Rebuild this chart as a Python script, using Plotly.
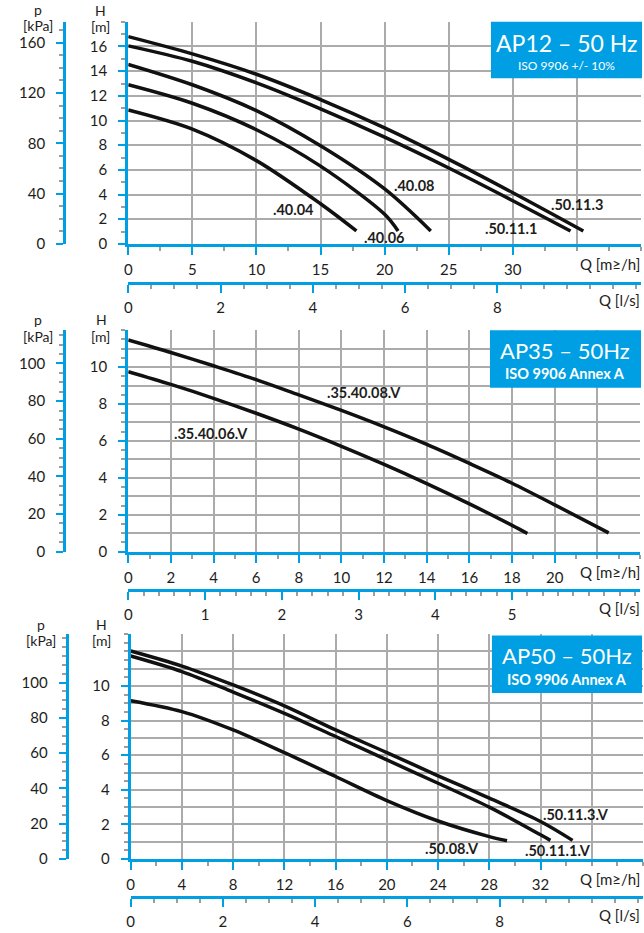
import numpy as np
import plotly.graph_objects as go

# ---------------- data ----------------
# Panel 1 : AP12 - 50 Hz   (Q in m3/h, H in m)
ap12_names = [".50.11.3", ".50.11.1", ".40.08", ".40.06", ".40.04"]
ap12_q = [
    [0, 5, 10, 15, 20, 25, 30, 35.5],
    [0, 5, 10, 15, 20, 25, 30, 34.5],
    [0, 5, 10, 15, 20, 23.6],
    [0, 5, 10, 15, 20, 21.05],
    [0, 5, 10, 15, 17.8],
]
ap12_h = [
    [16.8, 15.4, 13.75, 11.7, 9.4, 6.85, 4.15, 1.05],
    [16.05, 14.8, 13.05, 10.95, 8.65, 6.15, 3.5, 1.05],
    [14.55, 12.9, 10.8, 7.95, 4.45, 1.05],
    [12.9, 11.4, 9.25, 6.3, 2.4, 1.05],
    [10.85, 9.3, 6.75, 3.25, 1.05],
]
ap12_lbl_q = [35.0, 29.85, 22.35, 20.0, 12.9]
ap12_lbl_h = [3.2, 1.23, 4.7, 0.55, 2.8]

# Panel 2 : AP35 - 50 Hz
ap35_names = [".35.40.08.V", ".35.40.06.V"]
ap35_q = [
    [0, 2, 4, 6, 8, 10, 12, 14, 16, 18, 20, 22.53],
    [0, 2, 4, 6, 8, 10, 12, 14, 16, 18, 18.72],
]
ap35_h = [
    [11.47, 10.79, 10.07, 9.32, 8.49, 7.65, 6.76, 5.81, 4.78, 3.71, 2.54, 1.02],
    [9.75, 9.06, 8.31, 7.50, 6.64, 5.71, 4.73, 3.69, 2.59, 1.43, 0.99],
]
ap35_lbl_q = [11.05, 3.9]
ap35_lbl_h = [8.6, 6.4]

# Panel 3 : AP50 - 50 Hz
ap50_names = [".50.11.3.V", ".50.11.1.V", ".50.08.V"]
ap50_q = [
    [0, 4, 8, 12, 16, 20, 24, 28, 32, 34.5],
    [0, 4, 8, 12, 16, 20, 24, 28, 32, 32.77],
    [0, 4, 8, 12, 16, 20, 24, 28, 29.38],
]
ap50_h = [
    [12.02, 11.15, 10.06, 8.85, 7.46, 6.15, 4.81, 3.52, 2.17, 1.08],
    [11.73, 10.83, 9.65, 8.42, 7.08, 5.73, 4.38, 3.0, 1.4, 1.08],
    [9.15, 8.52, 7.46, 6.15, 4.77, 3.38, 2.2, 1.3, 1.06],
]
ap50_lbl_q = [34.75, 33.4, 25.1]
ap50_lbl_h = [2.56, 0.5, 0.62]

# tick labels
ap12_q_ticks = [0, 5, 10, 15, 20, 25, 30, 35, 40]
ap12_q_text = ["0", "5", "10", "15", "20", "25", "30", "", ""]
ap12_ls_ticks = [0, 2, 4, 6, 8, 10]
ap12_ls_text = ["0", "2", "4", "6", "8", ""]
ap12_h_ticks = [0, 2, 4, 6, 8, 10, 12, 14, 16, 18]
ap12_h_text = ["0", "2", "4", "6", "8", "10", "12", "14", "16", ""]
ap12_p_ticks = [0, 40, 80, 120, 160]
ap12_p_text = ["0", "40", "80", "120", "160"]

ap35_q_ticks = [0, 2, 4, 6, 8, 10, 12, 14, 16, 18, 20, 22, 24]
ap35_q_text = ["0", "2", "4", "6", "8", "10", "12", "14", "16", "18", "20", "", ""]
ap35_ls_ticks = [0, 1, 2, 3, 4, 5, 6]
ap35_ls_text = ["0", "1", "2", "3", "4", "5", ""]
ap35_h_ticks = [0, 1, 2, 3, 4, 5, 6, 7, 8, 9, 10, 11, 12]
ap35_h_text = ["0", "", "2", "", "4", "", "6", "", "8", "", "10", "", ""]
ap35_p_ticks = [0, 20, 40, 60, 80, 100]
ap35_p_text = ["0", "20", "40", "60", "80", "100"]

ap50_q_ticks = [0, 4, 8, 12, 16, 20, 24, 28, 32, 36, 40]
ap50_q_text = ["0", "4", "8", "12", "16", "20", "24", "28", "32", "", ""]
ap50_ls_ticks = [0, 2, 4, 6, 8, 10]
ap50_ls_text = ["0", "2", "4", "6", "8", ""]
ap50_h_ticks = [0, 1, 2, 3, 4, 5, 6, 7, 8, 9, 10, 11, 12, 13]
ap50_h_text = ["0", "", "2", "", "4", "", "6", "", "8", "", "10", "", "", ""]
ap50_p_ticks = [0, 20, 40, 60, 80, 100, 120]
ap50_p_text = ["0", "20", "40", "60", "80", "100", ""]

titles = ["AP12 – 50 Hz", "AP35 – 50Hz", "AP50 – 50Hz"]
subtitles = ["ISO 9906 +/- 10%", "ISO 9906 Annex A", "ISO 9906 Annex A"]

# ---------------- styling / layout ----------------
W, H = 644, 933
BLUE = "#009FE3"
GRID = "#ababab"
MINOR = "#9d9d9d"
TXT = "#1d1d1b"
FONT = "Lato"
KPA_PER_M = 9.81
M3H_PER_LS = 3.6


def fx(p):
    return p / W


def fy(p):
    return 1 - p / H


panels = [
    dict(x0=125, x1=641, yb=246, yt=22, pax=60.5, lsy=285, qmax=40, hmax=18,
         names=ap12_names, q=ap12_q, h=ap12_h, lq=ap12_lbl_q, lh=ap12_lbl_h,
         qt=ap12_q_ticks, qtt=ap12_q_text, qminor=2.5,
         lt=ap12_ls_ticks, ltt=ap12_ls_text, lminor=0.5,
         ht=ap12_h_ticks, htt=ap12_h_text, hminor=1,
         pt=ap12_p_ticks, ptt=ap12_p_text, pminor=10,
         box=(490, 22, 642, 79), tsize=23, ssize=12, ty=43, sy=66, sbold=False),
    dict(x0=125, x1=640, yb=556.5, yt=333, pax=60.5, lsy=595, qmax=24, hmax=12,
         names=ap35_names, q=ap35_q, h=ap35_h, lq=ap35_lbl_q, lh=ap35_lbl_h,
         qt=ap35_q_ticks, qtt=ap35_q_text, qminor=1,
         lt=ap35_ls_ticks, ltt=ap35_ls_text, lminor=0.2,
         ht=ap35_h_ticks, htt=ap35_h_text, hminor=0.5,
         pt=ap35_p_ticks, ptt=ap35_p_text, pminor=5,
         box=(489, 333, 641, 391), tsize=22, ssize=14.5, ty=353.5, sy=377, sbold=True),
    dict(x0=127.5, x1=643, yb=866.5, yt=639.5, pax=63, lsy=905, qmax=40, hmax=13,
         names=ap50_names, q=ap50_q, h=ap50_h, lq=ap50_lbl_q, lh=ap50_lbl_h,
         qt=ap50_q_ticks, qtt=ap50_q_text, qminor=2,
         lt=ap50_ls_ticks, ltt=ap50_ls_text, lminor=0.5,
         ht=ap50_h_ticks, htt=ap50_h_text, hminor=0.5,
         pt=ap50_p_ticks, ptt=ap50_p_text, pminor=5,
         box=(491, 641, 642, 699), tsize=22, ssize=14.5, ty=661.5, sy=685, sbold=True),
]

unit_lbl = [
    dict(p=(34, 10), kpa=(34, 26), h=(97, 11), m=(97, 27)),
    dict(p=(34, 322), kpa=(34, 339), h=(98, 322), m=(97, 339)),
    dict(p=(37, 630), kpa=(37, 646), h=(98, 630), m=(98, 646)),
]

fig = go.Figure()
layout = dict(width=W, height=H, margin=dict(l=0, r=0, t=0, b=0),
              paper_bgcolor="white", plot_bgcolor="white", showlegend=False,
              font=dict(family=FONT, size=14, color=TXT))
shapes = []
annotations = []

tickfont = dict(family=FONT, size=15, color=TXT)


def minor_cfg(step, rmax, ln):
    vals = [round(v, 4) for v in np.arange(0, rmax + 1e-9, step)]
    return dict(tickmode="array", tickvals=vals, ticks="outside", ticklen=ln,
                tickwidth=1.5, tickcolor=MINOR, showgrid=False)


for i, P in enumerate(panels):
    n_main = 2 * i + 1
    n_ov = 2 * i + 2
    xm = "x" if n_main == 1 else f"x{n_main}"
    ym = "y" if n_main == 1 else f"y{n_main}"
    xo = f"x{n_ov}"
    yo = f"y{n_ov}"
    xdom = [fx(P["x0"]), fx(P["x1"])]
    ydom = [fy(P["yb"]), fy(P["yt"])]

    layout["xaxis" if n_main == 1 else f"xaxis{n_main}"] = dict(
        domain=xdom, anchor=ym, range=[0, P["qmax"]],
        tickmode="array", tickvals=P["qt"], ticktext=P["qtt"],
        ticks="outside", ticklen=8, tickwidth=2, tickcolor=BLUE,
        showline=True, linecolor=BLUE, linewidth=3,
        showgrid=True, gridcolor=GRID, gridwidth=1.5, zeroline=False,
        minor=minor_cfg(P["qminor"], P["qmax"], 4),
        tickfont=tickfont, ticklabelstandoff=2, fixedrange=True)
    layout["yaxis" if n_main == 1 else f"yaxis{n_main}"] = dict(
        domain=ydom, anchor=xm, range=[0, P["hmax"]],
        tickmode="array", tickvals=P["ht"], ticktext=P["htt"],
        ticks="outside", ticklen=7, tickwidth=2, tickcolor=BLUE,
        showline=True, linecolor=BLUE, linewidth=3,
        showgrid=True, gridcolor=GRID, gridwidth=1.5, zeroline=False,
        minor=minor_cfg(P["hminor"], P["hmax"], 4),
        tickfont=tickfont, ticklabelstandoff=8, fixedrange=True)
    layout[f"xaxis{n_ov}"] = dict(
        overlaying=xm, anchor="free", position=fy(P["lsy"]), side="bottom",
        range=[0, P["qmax"] / M3H_PER_LS],
        tickmode="array", tickvals=P["lt"], ticktext=P["ltt"],
        ticks="outside", ticklen=8, tickwidth=2, tickcolor=BLUE,
        showline=True, linecolor=BLUE, linewidth=3,
        showgrid=False, zeroline=False,
        minor=minor_cfg(P["lminor"], P["qmax"] / M3H_PER_LS, 4),
        tickfont=tickfont, ticklabelstandoff=2, fixedrange=True)
    layout[f"yaxis{n_ov}"] = dict(
        overlaying=ym, anchor="free", position=fx(P["pax"]), side="left",
        range=[0, P["hmax"] * KPA_PER_M],
        tickmode="array", tickvals=P["pt"], ticktext=P["ptt"],
        ticks="outside", ticklen=7, tickwidth=2, tickcolor=BLUE,
        showline=True, linecolor=BLUE, linewidth=3,
        showgrid=False, zeroline=False,
        minor=minor_cfg(P["pminor"], P["hmax"] * KPA_PER_M, 4),
        tickfont=tickfont, ticklabelstandoff=8, fixedrange=True)

    # invisible trace so the overlay axes are drawn
    fig.add_trace(go.Scatter(x=[0], y=[0], xaxis=xo, yaxis=yo, mode="markers",
                             marker=dict(opacity=0), hoverinfo="skip", showlegend=False))

    for name, qs, hs, lq, lh in zip(P["names"], P["q"], P["h"], P["lq"], P["lh"]):
        fig.add_trace(go.Scatter(x=qs, y=hs, xaxis=xm, yaxis=ym, mode="lines",
                                 line=dict(color="#111111", width=3.5, shape="spline", smoothing=0.9),
                                 name=name, hoverinfo="skip", showlegend=False))
        annotations.append(dict(x=lq, y=lh, xref=xm, yref=ym, text=f"<b>{name}</b>",
                                showarrow=False, font=dict(family=FONT, size=14.5, color=TXT)))

    # title box
    bx0, by0, bx1, by1 = P["box"]
    shapes.append(dict(type="rect", xref="paper", yref="paper",
                       x0=fx(bx0), x1=fx(bx1), y0=fy(by1), y1=fy(by0),
                       fillcolor=BLUE, line=dict(width=0), layer="above"))
    cx = fx((bx0 + bx1) / 2)
    annotations.append(dict(x=cx, y=fy(P["ty"]), xref="paper", yref="paper",
                            text=titles[i], showarrow=False, xanchor="center", yanchor="middle",
                            font=dict(family=FONT, size=P["tsize"], color="white")))
    stext = f"<b>{subtitles[i]}</b>" if P["sbold"] else subtitles[i]
    annotations.append(dict(x=cx, y=fy(P["sy"]), xref="paper", yref="paper",
                            text=stext, showarrow=False, xanchor="center", yanchor="middle",
                            font=dict(family=FONT, size=P["ssize"], color="white")))

    # axis unit labels
    U = unit_lbl[i]
    for key, txt in (("p", "p"), ("kpa", "[kPa]"), ("h", "H"), ("m", "[m]")):
        annotations.append(dict(x=fx(U[key][0]), y=fy(U[key][1]), xref="paper", yref="paper",
                                text=txt, showarrow=False, xanchor="center", yanchor="middle",
                                font=dict(family=FONT, size=14, color=TXT)))
    # Q labels
    qy = P["yb"] + 20
    ly = P["lsy"] + 18
    annotations.append(dict(x=fx(642), y=fy(qy), xref="paper", yref="paper", text="Q [m≥/h]",
                            showarrow=False, xanchor="right", yanchor="middle",
                            font=dict(family=FONT, size=15, color=TXT)))
    annotations.append(dict(x=fx(642), y=fy(ly), xref="paper", yref="paper", text="Q [l/s]",
                            showarrow=False, xanchor="right", yanchor="middle",
                            font=dict(family=FONT, size=15, color=TXT)))

layout["shapes"] = shapes
layout["annotations"] = annotations
fig.update_layout(**layout)
fig.write_html("out.html", config={"displayModeBar": False},
               post_script="document.body.style.margin='0px';document.body.style.padding='0px';")
